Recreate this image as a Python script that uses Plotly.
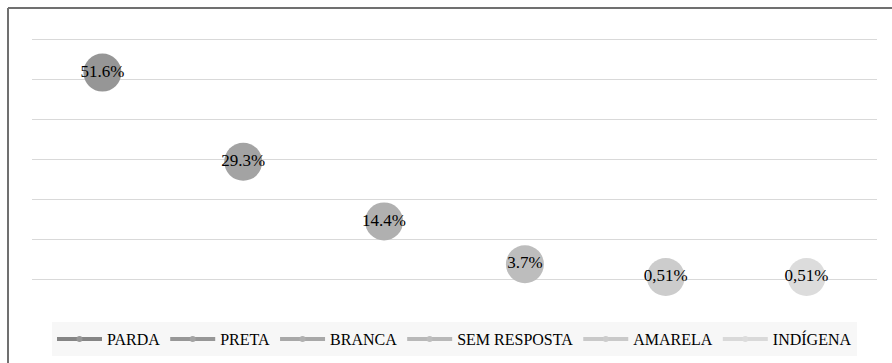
import plotly.graph_objects as go

categories = ["PARDA", "PRETA", "BRANCA", "SEM RESPOSTA", "AMARELA", "INDÍGENA"]
values = [51.6, 29.3, 14.4, 3.7, 0.51, 0.51]
labels = ["51.6%", "29.3%", "14.4%", "3.7%", "0,51%", "0,51%"]
marker_colors = ["#969696", "#a3a3a3", "#b0b0b0", "#bdbdbd", "#cccccc", "#dcdcdc"]
legend_colors = ["#858585", "#979797", "#a8a8a8", "#b8b8b8", "#c9c9c9", "#d9d9d9"]

SERIF = "Liberation Serif, Times New Roman, serif"

fig = go.Figure()
for i, cat in enumerate(categories):
    fig.add_trace(go.Scatter(
        x=[cat], y=[values[i]], mode="markers+text", text=[labels[i]],
        textposition="middle center",
        textfont=dict(family=SERIF, size=17, color="#000000"),
        marker=dict(size=38, color=marker_colors[i]),
        cliponaxis=False, showlegend=False, hoverinfo="skip"))
for i, cat in enumerate(categories):
    fig.add_trace(go.Scatter(
        x=[None], y=[None], mode="lines+markers", name=cat,
        line=dict(color=legend_colors[i], width=4),
        marker=dict(size=6, color=marker_colors[i]),
        showlegend=True))

L, R, T, B = 32, 15, 37, 82
W, H = 892, 363
pw = W - L - R
ph = H - T - B

def px(x):
    return (x - L) / pw

def py(y):
    return (H - B - y) / ph

fig.update_layout(
    template="none",
    width=W, height=H,
    margin=dict(l=L, r=R, t=T, b=B, pad=0, autoexpand=False),
    paper_bgcolor="white", plot_bgcolor="white",
    font=dict(family=SERIF, size=16, color="#000000"),
    xaxis=dict(type="category", categoryorder="array", categoryarray=categories,
               showticklabels=False, showgrid=False, zeroline=False, showline=False,
               range=[-0.5, 5.5]),
    yaxis=dict(range=[-0.5, 60.5], dtick=10, showticklabels=False, showgrid=True,
               gridcolor="#d9d9d9", gridwidth=1, zeroline=True,
               zerolinecolor="#d9d9d9", zerolinewidth=1, showline=False),
    legend=dict(orientation="h", x=0.5, xanchor="center", y=py(339), yanchor="middle",
                bgcolor="#f7f7f7", font=dict(family=SERIF, size=16, color="#000000"),
                itemsizing="trace", itemwidth=45, traceorder="normal"),
    shapes=[
        dict(type="line", xref="paper", yref="paper", x0=px(8), x1=px(892), y0=py(8), y1=py(8),
             line=dict(color="#707070", width=2)),
        dict(type="line", xref="paper", yref="paper", x0=px(8), x1=px(8), y0=py(8), y1=py(363),
             line=dict(color="#707070", width=2)),
    ],
)

fig.write_html("out.html")
